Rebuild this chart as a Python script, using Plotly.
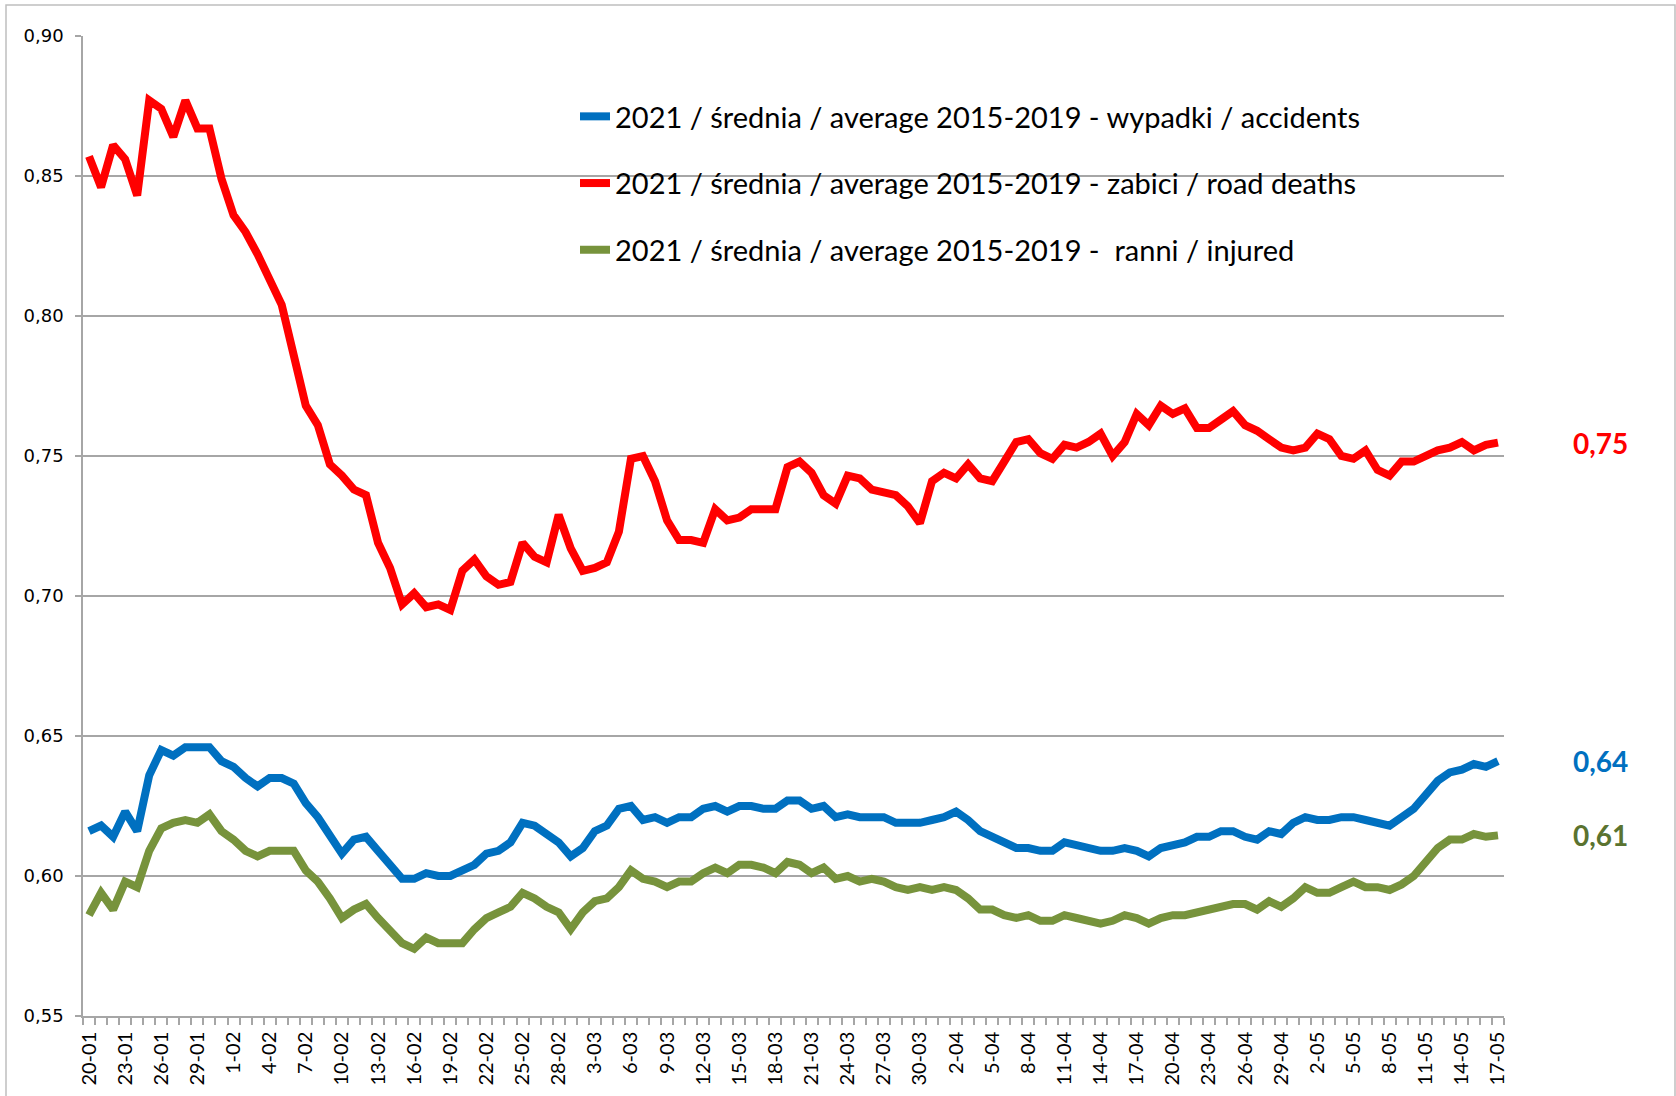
import pandas as pd
import plotly.graph_objects as go

# ---- data ----
dates = pd.date_range("2021-01-20", "2021-05-17", freq="D")
date_labels = [f"{d.day}-{d.month:02d}" for d in dates]

accidents = [0.616,0.618,0.614,0.623,0.616,0.636,0.645,0.643,0.646,0.646,
             0.646,0.641,0.639,0.635,0.632,0.635,0.635,0.633,0.626,0.621,
             0.614,0.608,0.613,0.614,0.609,0.604,0.599,0.599,0.601,0.600,
             0.600,0.602,0.604,0.608,0.609,0.612,0.619,0.618,0.615,0.612,
             0.607,0.610,0.616,0.618,0.624,0.625,0.620,0.621,0.619,0.621,
             0.621,0.624,0.625,0.623,0.625,0.625,0.624,0.624,0.627,0.627,
             0.624,0.625,0.621,0.622,0.621,0.621,0.621,0.619,0.619,0.619,
             0.620,0.621,0.623,0.620,0.616,0.614,0.612,0.610,0.610,0.609,
             0.609,0.612,0.611,0.610,0.609,0.609,0.610,0.609,0.607,0.610,
             0.611,0.612,0.614,0.614,0.616,0.616,0.614,0.613,0.616,0.615,
             0.619,0.621,0.620,0.620,0.621,0.621,0.620,0.619,0.618,0.621,
             0.624,0.629,0.634,0.637,0.638,0.640,0.639,0.641]

deaths = [0.857,0.846,0.861,0.856,0.843,0.877,0.874,0.864,0.877,0.867,
          0.867,0.849,0.836,0.830,0.822,0.813,0.804,0.786,0.768,0.761,
          0.747,0.743,0.738,0.736,0.719,0.710,0.697,0.701,0.696,0.697,
          0.695,0.709,0.713,0.707,0.704,0.705,0.719,0.714,0.712,0.729,
          0.717,0.709,0.710,0.712,0.723,0.749,0.750,0.741,0.727,0.720,
          0.720,0.719,0.731,0.727,0.728,0.731,0.731,0.731,0.746,0.748,
          0.744,0.736,0.733,0.743,0.742,0.738,0.737,0.736,0.732,0.726,
          0.741,0.744,0.742,0.747,0.742,0.741,0.748,0.755,0.756,0.751,
          0.749,0.754,0.753,0.755,0.758,0.750,0.755,0.765,0.761,0.768,
          0.765,0.767,0.760,0.760,0.763,0.766,0.761,0.759,0.756,0.753,
          0.752,0.753,0.758,0.756,0.750,0.749,0.752,0.745,0.743,0.748,
          0.748,0.750,0.752,0.753,0.755,0.752,0.754,0.7548]

injured = [0.586,0.594,0.588,0.598,0.596,0.609,0.617,0.619,0.620,0.619,
           0.622,0.616,0.613,0.609,0.607,0.609,0.609,0.609,0.602,0.598,
           0.592,0.585,0.588,0.590,0.585,0.580,0.576,0.574,0.578,0.576,
           0.576,0.576,0.581,0.585,0.587,0.589,0.594,0.592,0.589,0.587,
           0.581,0.587,0.591,0.592,0.596,0.602,0.599,0.598,0.596,0.598,
           0.598,0.601,0.603,0.601,0.604,0.604,0.603,0.601,0.605,0.604,
           0.601,0.603,0.599,0.600,0.598,0.599,0.598,0.596,0.595,0.596,
           0.595,0.596,0.595,0.592,0.588,0.588,0.586,0.585,0.586,0.584,
           0.584,0.586,0.585,0.584,0.583,0.584,0.586,0.585,0.583,0.585,
           0.586,0.586,0.587,0.588,0.589,0.590,0.590,0.588,0.591,0.589,
           0.592,0.596,0.594,0.594,0.596,0.598,0.596,0.596,0.595,0.597,
           0.600,0.605,0.610,0.613,0.613,0.615,0.614,0.6145]

series_names = [
    "2021 / średnia / average 2015-2019 - wypadki / accidents",
    "2021 / średnia / average 2015-2019 - zabici / road deaths",
    "2021 / średnia / average 2015-2019 -  ranni / injured",
]
series_values = [accidents, deaths, injured]
series_colors = ["#0070C0", "#FF0000", "#77933C"]
label_colors = ["#0070C0", "#FF0000", "#5A7330"]

y_ticks = [0.55, 0.60, 0.65, 0.70, 0.75, 0.80, 0.85, 0.90]

# ---- figure ----
x_idx = list(range(len(date_labels)))
label_idx = x_idx[::3]

fig = go.Figure()
for name, vals, col in zip(series_names, series_values, series_colors):
    fig.add_trace(go.Scatter(
        x=x_idx, y=vals, mode="lines", name=name, legendgroup=name,
        line=dict(color=col, width=8),
    ))

# end-value labels
for vals, col in zip(series_values, label_colors):
    fig.add_annotation(
        x=1.0676, xref="paper", y=vals[-1], yref="y",
        text=f"{vals[-1]:.2f}".replace(".", ","),
        showarrow=False, xanchor="center", yanchor="middle",
        font=dict(family="Lato", size=28, color=col, weight="bold"),
    )

GRID = "#A6A6A6"
L, R, T, B = 83, 172, 36, 80
W, H = 1676, 1096
pw, ph = W - L - R, H - T - B

def px_to_paper_x(px):
    return (px - L) / pw

def px_to_paper_y(py):
    return (H - B - py) / ph

# white box behind the legend (hides gridline)
fig.add_shape(type="rect", xref="paper", yref="paper",
              x0=px_to_paper_x(497), x1=px_to_paper_x(1427),
              y0=px_to_paper_y(280), y1=px_to_paper_y(72),
              fillcolor="white", line=dict(width=0), layer="below")
# outer chart border
fig.add_shape(type="rect", xref="paper", yref="paper",
              x0=px_to_paper_x(6), x1=px_to_paper_x(1675),
              y0=px_to_paper_y(1110), y1=px_to_paper_y(5),
              fillcolor="rgba(0,0,0,0)", line=dict(color="#BFBFBF", width=1.5))

fig.update_layout(
    width=W, height=H,
    margin=dict(l=L, r=R, t=T, b=B),
    paper_bgcolor="white", plot_bgcolor="white",
    separators=", ",
    showlegend=True,
    legend=dict(
        x=px_to_paper_x(575), y=px_to_paper_y(91), xanchor="left", yanchor="top",
        bgcolor="rgba(0,0,0,0)", borderwidth=0,
        font=dict(family="Lato", size=29, color="black"),
        traceorder="grouped", tracegroupgap=26,
    ),
    font=dict(family="Lato", color="black"),
)

fig.update_xaxes(
    range=[-0.5, len(date_labels) - 0.5],
    tickmode="array", tickvals=label_idx,
    ticktext=[date_labels[i] for i in label_idx],
    tickangle=-90, ticks="", ticklabelstandoff=6,
    tickfont=dict(family="Lato", size=20, color="black"),
    showgrid=False, zeroline=False,
    showline=True, linecolor=GRID, linewidth=1.5,
    minor=dict(tickmode="linear", tick0=-0.5, dtick=1, ticks="outside",
               ticklen=7, tickcolor=GRID, tickwidth=1.5, showgrid=False),
    automargin=False,
)
fig.update_yaxes(
    range=[0.55, 0.90], tickmode="array", tickvals=y_ticks,
    tickformat=".2f",
    ticks="outside", ticklen=6, tickcolor=GRID, tickwidth=1.5,
    ticklabelstandoff=8,
    tickfont=dict(family="DejaVu Sans", size=18, color="black"),
    showgrid=True, gridcolor=GRID, gridwidth=1.5,
    zeroline=False, showline=True, linecolor=GRID, linewidth=1.5,
    automargin=False,
)

fig.write_html("out.html", config={"displayModeBar": False},
               post_script="document.body.style.margin='0';document.body.style.overflow='hidden';")
